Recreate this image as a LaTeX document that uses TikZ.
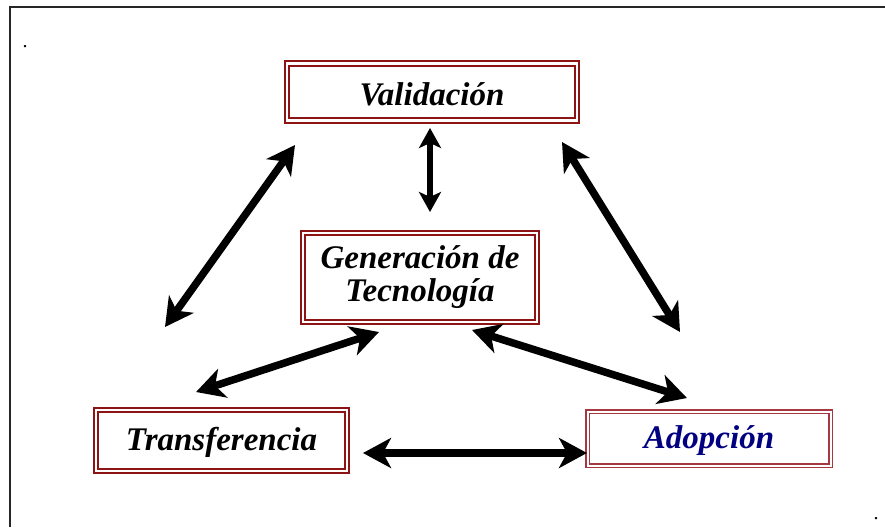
\documentclass[tikz,border=0pt]{standalone}
\usepackage{fontspec}
\setmainfont{Liberation Serif}
\usetikzlibrary{arrows.meta}

\definecolor{boxred}{RGB}{140,20,20}
\definecolor{adopred}{RGB}{165,55,65}
\definecolor{adopblue}{RGB}{0,0,128}

\tikzset{
  stagebox/.style={draw=boxred, double=white, line width=1.9pt, double distance=2.4pt,
    font=\fontsize{33}{33}\selectfont\bfseries\itshape, align=center, inner sep=0pt},
  onerow/.style={text height=24pt, text depth=5pt},
  link/.style={line width=7.5pt,
    {Stealth[length=28pt,width=30pt,inset=8pt]}-{Stealth[length=28pt,width=30pt,inset=8pt]}},
  shortlink/.style={line width=5.5pt,
    {Stealth[length=20pt,width=22pt,inset=5pt]}-{Stealth[length=20pt,width=22pt,inset=5pt]}},
}

\begin{document}
\begin{tikzpicture}[x=1pt,y=-1pt]
  \useasboundingbox (0,0) rectangle (885,527);
  \draw[line width=2pt, black!85] (10,527) -- (10,7) -- (885,7);

  % the four stages
  \node[stagebox, onerow, text height=26pt, text depth=0pt,
        minimum width=290pt, minimum height=57pt] (val) at (432,92) {Validación};
  \node[stagebox, minimum width=234pt, minimum height=89pt] (gen) at (420,277.5)
        {Generación de\\Tecnología};
  \node[stagebox, onerow, minimum width=251pt, minimum height=61pt] (trans) at (221.5,440.5)
        {Transferencia};
  \node[stagebox, onerow, draw=adopred, line width=1.1pt, double distance=2pt, text=adopblue,
        minimum width=243pt, minimum height=54pt] (adop) at (709,438.5) {Adopción};

  % stray dots
  \node[font=\fontsize{20}{20}\selectfont, anchor=base, inner sep=0pt] (dotA) at (25,48) {.};
  \node[font=\fontsize{20}{20}\selectfont, anchor=base, inner sep=0pt] (dotB) at (876,519) {.};

  % arrow ends
  \coordinate (vv1) at (430,128);
  \coordinate (vv2) at (430,212);
  \coordinate (ld1) at (165,327);
  \coordinate (ld2) at (295,145);
  \coordinate (rd1) at (562,142);
  \coordinate (rd2) at (680,332);
  \coordinate (gt1) at (379,332);
  \coordinate (gt2) at (196,392);
  \coordinate (ga1) at (472,330);
  \coordinate (ga2) at (687,398);
  \coordinate (ta1) at (363,453);
  \coordinate (ta2) at (587,453);

  \draw[shortlink] (vv1) -- (vv2);
  \draw[link] (ld1) -- (ld2);
  \draw[link] (rd1) -- (rd2);
  \draw[link] (gt1) -- (gt2);
  \draw[link] (ga1) -- (ga2);
  \draw[link] (ta1) -- (ta2);
\end{tikzpicture}
\end{document}
